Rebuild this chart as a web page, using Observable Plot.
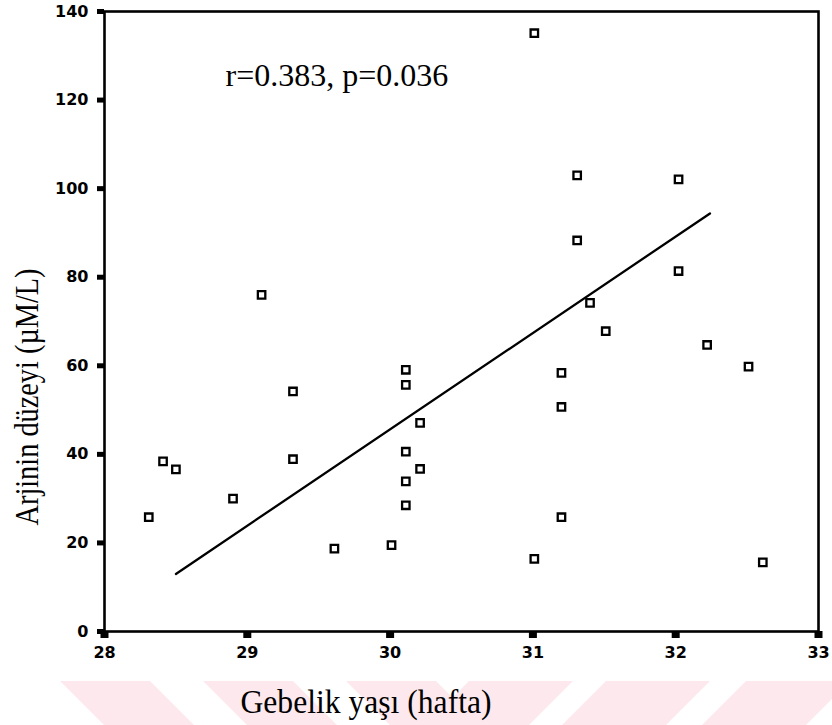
<!DOCTYPE html>
<html>
<head>
<meta charset="utf-8">
<script src="https://cdn.jsdelivr.net/npm/d3@7"></script>
<script src="https://cdn.jsdelivr.net/npm/@observablehq/plot@0.6"></script>
<style>
  html, body { margin: 0; padding: 0; background: #ffffff; }
  #wrap { position: relative; width: 832px; height: 725px; overflow: hidden; }
  #wm { position: absolute; left: 0; top: 0; }
  #chart { position: absolute; left: 0; top: 0; }
</style>
</head>
<body>
<div id="wrap">
  <svg id="wm" width="832" height="725"></svg>
  <div id="chart"></div>
</div>
<script>
// Gestational age (weeks)
const weeks = [28.31, 28.41, 28.50, 28.90, 29.10, 29.32, 29.32, 29.61, 30.01,
  30.11, 30.11, 30.11, 30.11, 30.11, 30.21, 30.21, 31.01, 31.01, 31.20, 31.20,
  31.20, 31.31, 31.31, 31.40, 31.51, 32.02, 32.02, 32.22, 32.51, 32.61];
// Arginine level (µM/L)
const arginine = [25.8, 38.4, 36.6, 30.0, 76.0, 54.2, 38.9, 18.7, 19.5,
  59.1, 55.7, 40.6, 33.9, 28.5, 47.1, 36.7, 135.1, 16.4, 58.4, 50.7,
  25.8, 103.0, 88.3, 74.2, 67.8, 102.1, 81.4, 64.7, 59.8, 15.6];
// Fitted line end points as drawn
const fitWeeks = [28.50, 32.24];
const fitValues = [13.0, 94.4];

const xTicks = [28, 29, 30, 31, 32, 33];
const yTicks = [0, 20, 40, 60, 80, 100, 120, 140];

const annotation = "r=0.383, p=0.036";
const xLabel = "Gebelik yaşı (hafta)";
const yLabel = "Arjinin düzeyi (µM/L)";

const points = weeks.map((w, i) => ({week: w, value: arginine[i]}));
const fit = fitWeeks.map((w, i) => ({week: w, value: fitValues[i]}));

// decorative watermark stripes (light pink chevrons at the bottom)
(function drawWatermark() {
  const svg = d3.select("#wm");
  const top = 681, bot = 725, h = bot - top;
  const col = "#fde9ed";
  const left = [60, 203, 346];
  left.forEach(x0 => {
    svg.append("polygon")
      .attr("points", `${x0},${top} ${x0 + 90},${top} ${x0 + 90 + h},${bot} ${x0 + h},${bot}`)
      .attr("fill", col);
  });
  const right = [469, 606, 746];
  right.forEach(x0 => {
    svg.append("polygon")
      .attr("points", `${x0},${top} ${x0 + 104},${top} ${x0 + 104 - h},${bot} ${x0 - h},${bot}`)
      .attr("fill", col);
  });
})();

const serif = "'Liberation Serif', 'Times New Roman', serif";

const chart = Plot.plot({
  width: 832,
  height: 725,
  marginLeft: 104,
  marginRight: 14,
  marginTop: 11,
  marginBottom: 94,
  style: {
    background: "transparent",
    color: "#000",
    fontFamily: "'DejaVu Sans', sans-serif",
    fontSize: "16px",
    overflow: "visible"
  },
  x: {domain: [28, 33]},
  y: {domain: [0, 140]},
  marks: [
    Plot.frame({stroke: "#000", strokeWidth: 2.6}),
    Plot.axisY(yTicks, {
      tickSize: 7, strokeWidth: 5, tickPadding: 9, label: null,
      tickFormat: d3.format("d"),
      fontSize: 16, fontWeight: "bold", fill: "#000"
    }),
    Plot.axisX(xTicks, {
      tickSize: 7, strokeWidth: 8, tickPadding: 8, label: null,
      tickFormat: d3.format("d"),
      fontSize: 16, fontWeight: "bold", fill: "#000"
    }),
    Plot.line(fit, {x: "week", y: "value", stroke: "#000", strokeWidth: 2.3}),
    Plot.dot(points, {
      x: "week", y: "value", symbol: "square", r: 4.2,
      stroke: "#000", strokeWidth: 2.3, fill: "#fff"
    }),
    Plot.text([annotation], {
      text: d => d, frameAnchor: "top-left", dx: 121, dy: 74,
      lineAnchor: "bottom", textAnchor: "start",
      fontFamily: serif, fontSize: 32, fill: "#000"
    }),
    Plot.text([xLabel], {
      text: d => d, frameAnchor: "bottom", dx: -95.5, dy: 81,
      lineAnchor: "bottom", textAnchor: "middle",
      fontFamily: serif, fontSize: 34, fill: "#000"
    }),
    Plot.text([yLabel], {
      text: d => d, frameAnchor: "left", dx: -67, dy: 75.5, rotate: -90,
      lineAnchor: "bottom", textAnchor: "middle",
      fontFamily: serif, fontSize: 34, fill: "#000"
    })
  ]
});

chart.querySelectorAll("text").forEach(t => {
  if (t.textContent === xLabel) {
    t.setAttribute("textLength", "251");
    t.setAttribute("lengthAdjust", "spacingAndGlyphs");
  } else if (t.textContent === yLabel) {
    t.setAttribute("textLength", "257");
    t.setAttribute("lengthAdjust", "spacingAndGlyphs");
  }
});

document.getElementById("chart").appendChild(chart);
</script>
</body>
</html>
